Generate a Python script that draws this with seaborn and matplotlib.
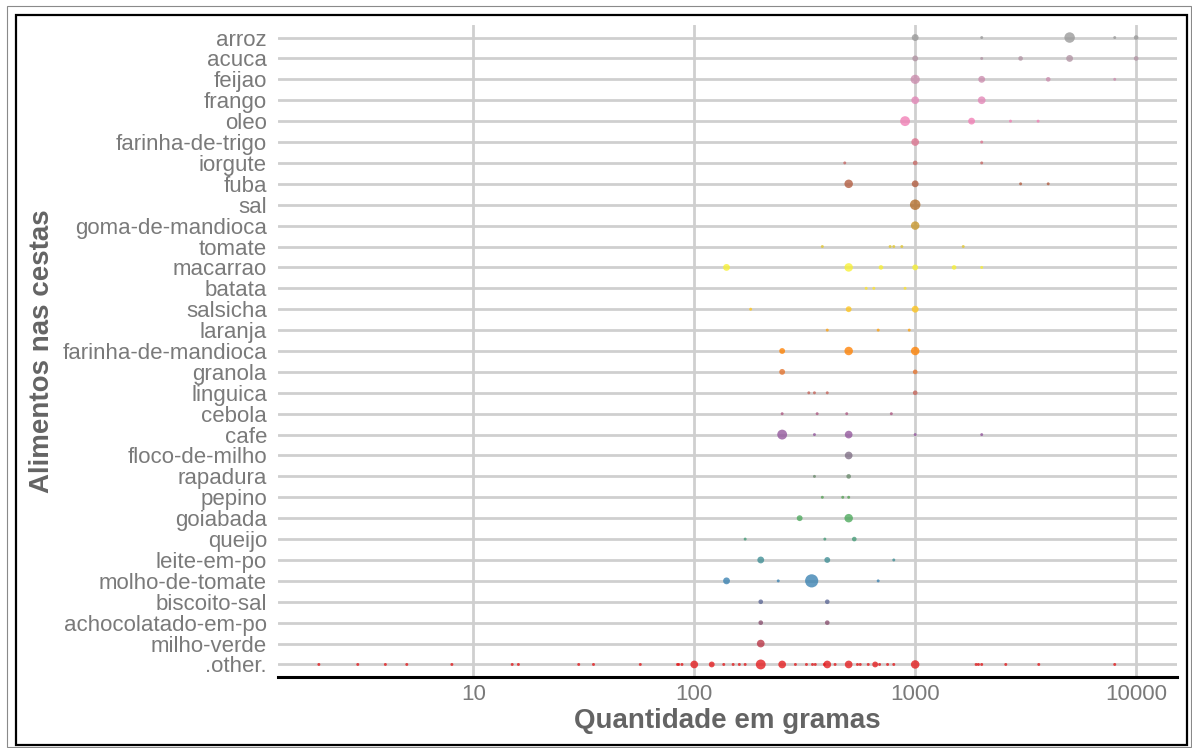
import numpy as np
import pandas as pd
import matplotlib
matplotlib.use("Agg")
import matplotlib.pyplot as plt
from matplotlib.colors import LinearSegmentedColormap, to_hex
from matplotlib.patches import Rectangle
from matplotlib.ticker import FixedLocator, NullLocator
import seaborn as sns

# Quantities (grams) found in the baskets for each food, and how many baskets
# carry each quantity.  Foods are listed top to bottom as they appear.
arroz = ([1000, 2000, 5000, 8000, 10000], [4, 1, 9, 1, 2])
acuca = ([1000, 2000, 3000, 5000, 10000], [3, 1, 2, 4, 2])
feijao = ([1000, 2000, 4000, 8000], [7, 4, 2, 1])
frango = ([1000, 2000], [5, 5])
oleo = ([900, 1800, 2700, 3600], [8, 4, 1, 1])
farinha_de_trigo = ([1000, 2000], [5, 1])
iorgute = ([480, 1000, 2000], [1, 2, 1])
fuba = ([500, 1000, 3000, 4000], [6, 4, 1, 1])
sal = ([1000], [9])
goma_de_mandioca = ([1000], [6])
tomate = ([380, 770, 800, 870, 1650], [1, 1, 1, 1, 1])
macarrao = ([140, 500, 700, 1000, 1500, 2000], [4, 6, 2, 3, 2, 1])
batata = ([600, 650, 900], [1, 1, 1])
salsicha = ([180, 500, 1000], [1, 3, 4])
laranja = ([400, 680, 940], [1, 1, 1])
farinha_de_mandioca = ([250, 500, 1000], [3, 6, 6])
granola = ([250, 1000], [3, 2])
linguica = ([330, 350, 400, 1000], [1, 1, 1, 2])
cebola = ([250, 360, 490, 780], [1, 1, 1, 1])
cafe = ([250, 350, 500, 1000, 2000], [8, 1, 5, 1, 1])
floco_de_milho = ([500], [5])
rapadura = ([350, 500], [1, 2])
pepino = ([380, 470, 500], [1, 1, 1])
goiabada = ([300, 500], [3, 6])
queijo = ([170, 390, 530], [1, 1, 2])
leite_em_po = ([200, 400, 800], [4, 3, 1])
molho_de_tomate = ([140, 240, 340, 680], [4, 1, 14, 1])
biscoito_sal = ([200, 400], [2, 2])
achocolatado_em_po = ([200, 400], [2, 2])
milho_verde = ([200], [5])
outros = (
    [2, 3, 4, 5, 8, 15, 16, 30, 35, 57, 84, 85, 88, 100, 120, 136, 150, 160,
     170, 200, 250, 287, 322, 343, 353, 388, 400, 434, 500, 548, 564, 613, 659,
     690, 750, 800, 1000, 1887, 1933, 2000, 2570, 3625, 8000],
    [1, 1, 1, 1, 1, 1, 1, 1, 1, 1, 1, 1, 1, 5, 3, 1, 1, 1,
     1, 8, 5, 1, 1, 1, 1, 1, 5, 1, 5, 1, 1, 1, 3,
     1, 1, 1, 6, 1, 1, 1, 1, 1, 1],
)

alimentos = [
    ("arroz", arroz), ("acuca", acuca), ("feijao", feijao), ("frango", frango),
    ("oleo", oleo), ("farinha-de-trigo", farinha_de_trigo), ("iorgute", iorgute),
    ("fuba", fuba), ("sal", sal), ("goma-de-mandioca", goma_de_mandioca),
    ("tomate", tomate), ("macarrao", macarrao), ("batata", batata),
    ("salsicha", salsicha), ("laranja", laranja),
    ("farinha-de-mandioca", farinha_de_mandioca), ("granola", granola),
    ("linguica", linguica), ("cebola", cebola), ("cafe", cafe),
    ("floco-de-milho", floco_de_milho), ("rapadura", rapadura),
    ("pepino", pepino), ("goiabada", goiabada), ("queijo", queijo),
    ("leite-em-po", leite_em_po), ("molho-de-tomate", molho_de_tomate),
    ("biscoito-sal", biscoito_sal), ("achocolatado-em-po", achocolatado_em_po),
    ("milho-verde", milho_verde), (".other.", outros),
]
x_ticks = [10, 100, 1000, 10000]

# long-format table
rows = []
for nome, (gramas, n) in alimentos:
    for g, c in zip(gramas, n):
        rows.append({"alimento": nome, "gramas": g, "n": c})
df = pd.DataFrame(rows)
ordem = [a for a, _ in alimentos]

# Set1 ramped across all foods, red at the bottom, grey at the top
set1 = ["#E41A1C", "#377EB8", "#4DAF4A", "#984EA3", "#FF7F00",
        "#FFFF33", "#A65628", "#F781BF", "#999999"]
ramp = LinearSegmentedColormap.from_list("set1ramp", set1)
k = len(ordem)
paleta = {nome: to_hex(ramp(i / (k - 1))) for i, nome in enumerate(reversed(ordem))}

sns.set_theme(style="white")
plt.rcParams["font.family"] = ["Liberation Sans", "DejaVu Sans"]

fig = plt.figure(figsize=(11.92, 7.48), dpi=100)
ax = fig.add_axes([278 / 1192, 1 - 677 / 748, (1177 - 278) / 1192, (677 - 25) / 748])

sns.scatterplot(
    data=df, x="gramas", y="alimento", hue="alimento", hue_order=ordem,
    palette=paleta, size="n", sizes=(4.5, 90), size_norm=(1, 14),
    alpha=0.78, linewidth=0, legend=False, ax=ax, zorder=3,
)

ax.set_xscale("log")
lo, hi = np.log10(2), np.log10(10000)
pad = 0.05 * (hi - lo)
ax.set_xlim(10 ** (lo - pad), 10 ** (hi + pad))
ax.xaxis.set_major_locator(FixedLocator(x_ticks))
ax.xaxis.set_minor_locator(NullLocator())
ax.set_xticklabels([str(t) for t in x_ticks])

ax.set_yticks(range(k))
ax.set_yticklabels(ordem)
ax.set_ylim(k - 1 + 0.6, -0.6)

ax.set_axisbelow(True)
ax.grid(True, which="major", axis="both", color="#cfcfcf", linewidth=2.0)
for s in ["top", "right", "left"]:
    ax.spines[s].set_visible(False)
ax.spines["bottom"].set_color("black")
ax.spines["bottom"].set_linewidth(2.2)
ax.spines["bottom"].set_zorder(5)

ax.tick_params(axis="both", length=0, labelsize=16, labelcolor="#7a7a7a")
ax.tick_params(axis="y", pad=8)
ax.tick_params(axis="x", pad=5)

ax.set_xlabel("Quantidade em gramas", fontsize=20, fontweight="bold", color="#646464")
ax.set_ylabel("Alimentos nas cestas", fontsize=20, fontweight="bold", color="#646464")
ax.xaxis.set_label_coords(0.5, -0.048)
ax.yaxis.set_label_coords(-0.248, 0.5)

# frame lines around the figure
fig.patches.append(Rectangle((16 / 1192, 1 - 745 / 748), (1187 - 16) / 1192,
                             (745 - 15) / 748, transform=fig.transFigure,
                             fill=False, edgecolor="black", linewidth=1.6))
fig.patches.append(Rectangle((7 / 1192, 1 - 747 / 748), (1191 - 7) / 1192,
                             (747 - 6) / 748, transform=fig.transFigure,
                             fill=False, edgecolor="#8a8a8a", linewidth=0.8))

fig.savefig("out.png", dpi=100, facecolor="white")
